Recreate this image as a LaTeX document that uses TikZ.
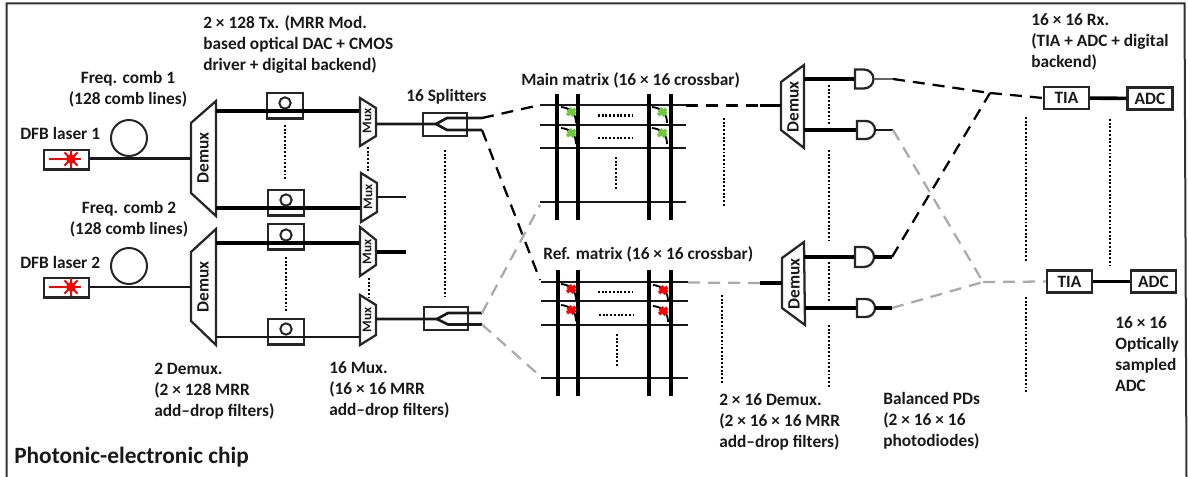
\documentclass[tikz,border=0pt]{standalone}
\usepackage{fontspec}
\setmainfont{Carlito}[BoldFont={Carlito Bold}]
\definecolor{lg}{RGB}{112,200,60}
\definecolor{dgray}{RGB}{170,170,170}
\newcommand{\trap}[9]{%
  \coordinate (#1a) at (#2,#3);\coordinate (#1b) at (#4,#5);\coordinate (#1c) at (#6,#7);\coordinate (#1d) at (#8,#9);
  \draw[shp] (#1a) -- (#1b) -- (#1c) -- (#1d) -- cycle;}
\newcommand{\gate}[4]{% name, xleft, ycentre, half height
  \coordinate (#1) at (#2,#3);
  \draw[shp,fill=white] ([yshift=-#4*0.75pt]#1) -- ++(9,0) arc[start angle=-90,end angle=90,radius=#4*0.75pt] -- ++(-9,0) -- cycle;
  \coordinate (#1o) at ($(#1)+(9+#4,0)$);}
\newcommand{\modu}[4]{% name, cx, ytop, ring y
  \node[shp,draw,minimum width=27pt,minimum height=19pt,inner sep=0pt,anchor=north] (#1) at (#2,#3) {};
  \node[ring,minimum size=8.5pt] (#1r) at (#2,#4) {};}
\newcommand{\lsr}[3]{% name, y top, y line
  \node[shp,draw,minimum width=33.75pt,minimum height=14.6pt,inner sep=0pt,anchor=north west] (#1) at (43,#2) {};
  \coordinate (#1s) at (71,#3);
  \draw[red,line width=1.9pt] (49,#3) -- (81,#3);
  \foreach \aa in {0,45,...,315}{\draw[red,line width=1.4pt] (#1s) -- ++(\aa:7pt);}
  \fill[red] (#1s) circle[radius=3.6pt];}
\newcommand{\coup}[3]{% start x,y, colour
  \draw[line width=1.4pt] (#1,#2) .. controls ($(#1,#2)+(10,1)$) and ($(#1,#2)+(15,7)$) .. ($(#1,#2)+(15,16)$);
  \draw[#3,line width=4.2pt] ($(#1,#2)+(7.5,2)$) -- ($(#1,#2)+(13.5,8)$);
  \draw[#3,line width=2.6pt] ($(#1,#2)+(6,8)$) -- ($(#1,#2)+(14.5,2)$);}
\usetikzlibrary{calc}
\tikzset{
  shp/.style={line width=1.7pt,draw=black!85,line join=miter},
  ring/.style={circle,draw=black!85,line width=1.5pt,inner sep=0pt},
  thinw/.style={line width=1.6pt,draw=black!90},
  midw/.style={line width=2pt,draw=black!90},
  thickw/.style={line width=2.7pt,draw=black},
  dots/.style={line width=1.7pt,draw=black,dash pattern=on 1.4pt off 1.4pt},
  blk/.style={line width=1.7pt,draw=black,dash pattern=on 9pt off 6pt},
  gry/.style={line width=1.7pt,draw=dgray,dash pattern=on 9pt off 6pt},
  lab/.style={anchor=west,align=left,inner sep=0pt,font=\fontsize{13pt}{15.75pt}\selectfont\bfseries,text=black!90},
  ctr/.style={lab,anchor=center,align=center},
  rot/.style={inner sep=0pt,rotate=90,text=black!90,font=\fontsize{13pt}{14pt}\selectfont\bfseries},
  rots/.style={rot,font=\fontsize{10pt}{11pt}\selectfont\bfseries},
  ebox/.style={shp,draw,minimum width=33.75pt,minimum height=16.5pt,inner sep=0pt,font=\fontsize{13pt}{14pt}\selectfont\bfseries,text=black!90},
  x=0.75pt,y=-0.75pt
}
\begin{document}
\begin{tikzpicture}
\useasboundingbox (0,0) rectangle (1188,477);
\begin{scope}
\clip (0,0) rectangle (1188,477);
\draw[line width=1.5pt,draw=black!80] (6.5,480) -- (6.5,3.5) -- (1184.5,3.5) -- (1186.5,480);
\end{scope}

% lasers and rings
\lsr{las1}{149}{159}
\lsr{las2}{277}{287}
\node[ring,minimum size=27pt] (rng1) at (129,138) {};
\node[ring,minimum size=27pt] (rng2) at (129,266) {};

% demuxes
\trap{dA}{191}{123}{216}{101}{216}{216}{191}{193}
\trap{dB}{191}{252}{216}{229}{216}{345}{191}{321}
\node[rot] (dAt) at (203,158) {Demux};
\node[rot] (dBt) at (203,287) {Demux};
\coordinate (dAi) at (191,158.5);
\coordinate (dBi) at (191,287);
\draw[midw] (las1.east |- dAi) -- (dAi);
\draw[midw] (las2.east |- dBi) -- (dBi);

% tx rows
\coordinate (t1a) at (216,111);\coordinate (t1b) at (360,111);
\coordinate (t2a) at (216,208);\coordinate (t2b) at (361,208);
\coordinate (t3a) at (216,243);\coordinate (t3b) at (360,243);
\coordinate (t4a) at (216,337);\coordinate (t4b) at (360,337);
\modu{mA}{285}{92}{103}
\modu{mB}{286}{189}{200}
\modu{mC}{286}{223}{235}
\modu{mD}{286}{318}{329}
\draw[thickw] (t1a) -- (t1b);
\draw[thickw] (t2a) -- (t2b);
\draw[thickw] (t3a) -- (t3b);
\draw[midw] (t4a) -- (t4b);
\draw[dots] (285,125) -- (285,180);
\draw[dots] (286,257) -- (286,312);

% muxes
\trap{xA}{360}{98}{376}{108}{376}{136}{360}{146}
\trap{xB}{361}{173}{377}{183}{377}{212}{361}{222}
\trap{xC}{360}{227}{376}{240}{376}{265}{360}{276}
\trap{xD}{360}{295}{376}{305}{376}{335}{360}{345}
\node[rots] (xAt) at (367,121) {Mux};
\node[rots] (xBt) at (368,197) {Mux};
\node[rots] (xCt) at (367,252) {Mux};
\node[rots] (xDt) at (367,320) {Mux};
\draw[dots] (368,147) -- (368,172);
\draw[dots] (369,278) -- (369,298);
\coordinate (oB) at (406,197);
\coordinate (oC) at (406,252);
\draw[midw] (377,197) -- (oB);
\draw[thickw] (377,252) -- (oC);

% splitters
\node[shp,draw,minimum width=33pt,minimum height=17pt,inner sep=0pt] (sA) at (445,124.5) {};
\node[shp,draw,minimum width=33pt,minimum height=17pt,inner sep=0pt] (sB) at (446,318.5) {};
\coordinate (sAu) at (482,118);\coordinate (sAd) at (482,130);
\coordinate (sBu) at (482,313);\coordinate (sBd) at (482,324.5);
\draw[midw] (376,124) -- (436,124) -- (447,118) -- (sAu);
\draw[midw] (436,124) -- (447,130) -- (sAd);
\draw[midw] (376,319) -- (437,319) -- (448,313) -- (sBu);
\draw[midw] (437,319) -- (448,324.5) -- (sBd);
\draw[dots] (445,150) -- (445,296);

% inter-stage dashed
\coordinate (MA) at (540,105);\coordinate (MB) at (540,205);
\coordinate (RA) at (540,280);\coordinate (RB) at (540,376);
\draw[blk] (sAu) -- (MA);
\draw[blk] (sAd) -- (RA);
\draw[gry] (sBu) -- (MB);
\draw[gry] (sBd) -- (RB);

% main matrix
\foreach \yy/\st in {105/thinw,125/thinw,148/thinw,202/midw}{\draw[\st] (540,\yy) -- (686,\yy);}
\foreach \xx in {557,578,649,671}{\draw[thickw] (\xx,94) -- (\xx,220);}
\coup{561}{107}{lg}
\coup{561}{128}{lg}
\coup{652}{107}{lg}
\coup{652}{128}{lg}
\draw[dots] (598,115.5) -- (634,115.5);
\draw[dots] (598,138) -- (634,138);
\draw[dots] (616,157) -- (616,190);

% ref matrix
\foreach \yy/\st in {282/thinw,301/thinw,325/midw,378/midw}{\draw[\st] (541,\yy) -- (688,\yy);}
\foreach \xx in {558,578,649,671}{\draw[thickw] (\xx,270) -- (\xx,396);}
\coup{561}{284}{red}
\coup{561}{305}{red}
\coup{653}{285}{red}
\coup{653}{306}{red}
\draw[dots] (598,292) -- (634,292);
\draw[dots] (599,315) -- (635,315);
\draw[dots] (617,334) -- (617,367);

% rx demuxes
\trap{dC}{781}{82}{804}{65}{804}{148}{781}{130}
\trap{dD}{782}{258}{804}{242}{805}{325}{782}{308}
\node[rot] (dCt) at (793,107) {Demux};
\node[rot] (dDt) at (794,284) {Demux};
\coordinate (dCs) at (760,105.5);\coordinate (dDs) at (760,283);
\draw[blk] (686,105.5) -- (dCs);
\draw[gry] (688,282.5) -- (dDs);
\draw[thickw] (dCs) -- (781,105.5);
\draw[thickw] (dDs) -- (782,283);

% PDs
\draw[thickw] (804,79) -- (855,79);
\draw[thickw] (804,130) -- (857,130);
\draw[thickw] (804,257) -- (855,257);
\draw[thickw] (805,308) -- (857,308);
\gate{pA}{855}{79}{9.5}
\gate{pB}{857}{130}{9}
\gate{pC}{855}{257}{10}
\gate{pD}{857}{308}{9}
\draw[dots] (829,85) -- (829,124);
\draw[dots] (829,150) -- (829,240);
\draw[dots] (829,262) -- (829,302);
\draw[dots] (829,325) -- (829,388);
\draw[dots] (724,118) -- (724,207);
\draw[dots] (722,295) -- (722,384);
\draw[dots] (1026,117) -- (1026,262);
\draw[dots] (1026,297) -- (1026,394);
\draw[dots] (1110,119) -- (1110,265);

% outputs
\node[ebox] (tA) at (1066.5,98) {TIA};
\node[ebox] (aA) at (1150,98.5) {ADC};
\node[ebox] (tB) at (1069.5,281.5) {TIA};
\node[ebox] (aB) at (1153.5,281.5) {ADC};
\draw[thickw] (tA) -- (aA);
\draw[thickw] (tB) -- (aB);
\coordinate (jA) at (990,93);\coordinate (jB) at (983,282);
\coordinate (pAe) at (893,79);\coordinate (pBe) at (893,130);
\coordinate (pCe) at (892,257);\coordinate (pDe) at (892,308);
\draw[line width=1.3pt,draw=black!60] (pAo) -- (pAe);
\draw[midw] (pBo) -- (pBe);
\draw[thickw] (pCo) -- (pCe);
\draw[thickw] (pDo) -- (pDe);
\draw[blk] (pAe) -- (jA);
\draw[blk] (pCe) -- (jA);
\draw[blk] (jA) -- (tA.west);
\draw[gry] (pBe) -- (jB);
\draw[gry] (pDe) -- (jB);
\draw[gry] (jB) -- (tB.west);

% labels
\node[lab] (l1) at (203,45) {2 × 128 Tx. (MRR Mod.\\based optical DAC + CMOS\\driver + digital backend)};
\node[ctr] (l2) at (128,89.5) {Freq. comb 1\\(128 comb lines)};
\node[ctr] (l3) at (129,219.5) {Freq. comb 2\\(128 comb lines)};
\node[lab] (l4) at (20,133) {DFB laser 1};
\node[lab] (l5) at (20,262) {DFB laser 2};
\node[lab] (l6) at (154,391) {2 Demux.\\(2 × 128 MRR\\add–drop filters)};
\node[lab] (l7) at (329,390) {16 Mux.\\(16 × 16 MRR\\add–drop filters)};
\node[lab] (l8) at (406,97) {16 Splitters};
\node[lab] (l9) at (521,80) {Main matrix (16 × 16 crossbar)};
\node[lab] (l10) at (543,254) {Ref. matrix (16 × 16 crossbar)};
\node[lab] (l11) at (719,422) {2 × 16 Demux.\\(2 × 16 × 16 MRR\\add–drop filters)};
\node[lab] (l12) at (883,421) {Balanced PDs\\(2 × 16 × 16\\photodiodes)};
\node[lab] (l13) at (1031,42) {16 × 16 Rx.\\(TIA + ADC + digital\\backend)};
\node[lab] (l14) at (1115,354) {16 × 16\\Optically\\sampled\\ADC};
\node[lab,font=\fontsize{17.5pt}{20pt}\selectfont\bfseries] (l15) at (14,457) {Photonic-electronic chip};
\end{tikzpicture}
\end{document}
